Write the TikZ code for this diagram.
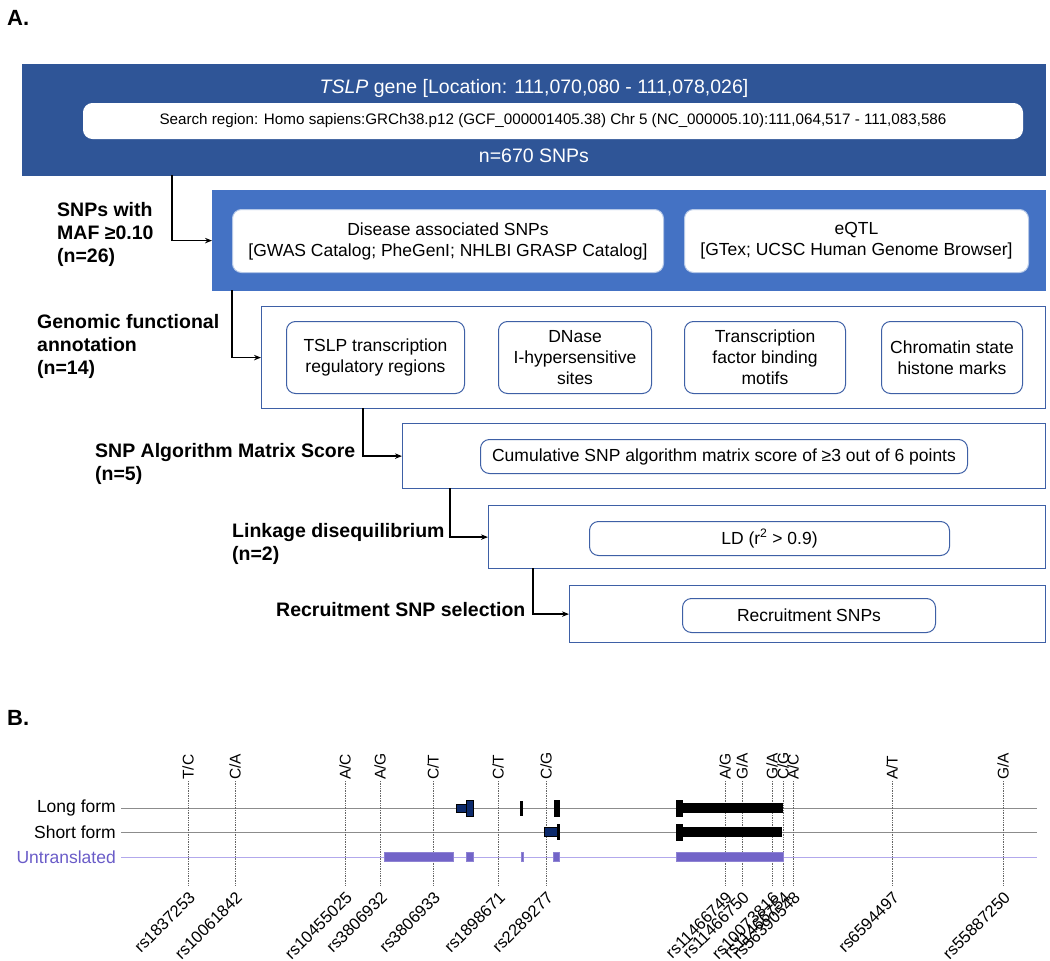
\documentclass[tikz,border=0pt]{standalone}
\usepackage{fontspec}
\setmainfont{Liberation Sans}
\usetikzlibrary{arrows.meta}
\usetikzlibrary{positioning}
\definecolor{gene-navy}{RGB}{47, 85, 151}
\definecolor{filter-blue}{RGB}{68, 114, 196}
\definecolor{frame-blue}{RGB}{62, 96, 166}
\definecolor{exon-navy}{RGB}{12, 42, 108}
\definecolor{utr-purple}{RGB}{114, 100, 200}
\definecolor{utr-line}{RGB}{178, 168, 236}
\definecolor{utr-text}{RGB}{106, 92, 200}

\begin{document}
\begin{tikzpicture}[x=1pt, y=-1pt,
    stage/.style={draw=frame-blue, line width=1.2pt, fill=white, anchor=north west, inner sep=0pt},
    tag/.style={draw=frame-blue, line width=1pt, fill=white, rounded corners=9pt, anchor=north west, inner sep=0pt},
    tagtext/.style={align=center, font=\fontsize{17.5}{21}\selectfont},
    filterlab/.style={anchor=west, align=left, inner sep=0pt, font=\fontsize{19.5}{23}\selectfont\bfseries},
    panel/.style={anchor=west, inner sep=0pt, font=\fontsize{22}{26}\selectfont\bfseries},
    flow/.style={line width=1.4pt, -{Stealth[length=7pt, width=5.5pt]}},
    track/.style={line width=1pt, draw=black!45},
    tracklab/.style={anchor=east, inner sep=0pt, font=\fontsize{17.5}{21}\selectfont},
    snp/.style={densely dotted, line width=0.7pt, draw=black!60},
    allele/.style={rotate=90, anchor=west, inner sep=1pt, font=\fontsize{15.5}{18}\selectfont},
    rsid/.style={rotate=45, anchor=north east, inner sep=3.5pt, font=\fontsize{16.5}{19}\selectfont}]
\useasboundingbox (0,0) rectangle (1050,961);

\node[panel] (parta) at (7,18) {A.};

\node[stage, fill=gene-navy, draw=gene-navy, minimum width=1023pt, minimum height=111pt] (gene) at (22,64) {};
\node[tagtext, text=white, font=\fontsize{19.5}{23}\selectfont] (genetitle) at (534,88) {\textit{TSLP} gene [Location: 111,070,080 - 111,078,026]};
\node[tag, draw=white, minimum width=939pt, minimum height=35pt] (region) at (83,103) {};
\node[font=\fontsize{15.2}{18}\selectfont] (regiontext) at (region.center) {Search region: Homo sapiens:GRCh38.p12 (GCF\_000001405.38) Chr 5 (NC\_000005.10):111,064,517 - 111,083,586};
\node[tagtext, text=white, font=\fontsize{19.5}{23}\selectfont] (snpcount) at (534,156) {n=670 SNPs};

\node[stage, fill=filter-blue, draw=filter-blue, minimum width=833pt, minimum height=100pt] (maf) at (212,190) {};
\node[tag, draw=filter-blue!40!white, minimum width=431pt, minimum height=63pt] (gwas) at (232,209) {};
\node[tagtext] (gwastext) at (gwas.center) {Disease associated SNPs\\{[}GWAS Catalog; PheGenI; NHLBI GRASP Catalog]};
\node[tag, draw=filter-blue!40!white, minimum width=344pt, minimum height=63pt] (eqtl) at (684,209) {};
\node[tagtext] (eqtltext) at (eqtl.center) {eQTL\\{[}GTex; UCSC Human Genome Browser]};

\node[stage, minimum width=784pt, minimum height=102pt] (annot) at (261,306) {};
\node[tag, minimum width=178pt, minimum height=72pt] (tslp) at (286,321) {};
\node[tagtext] (tslptext) at (tslp.center) {TSLP transcription\\regulatory regions};
\node[tag, minimum width=153pt, minimum height=72pt] (dnase) at (498,321) {};
\node[tagtext] (dnasetext) at (dnase.center) {DNase\\I-hypersensitive\\sites};
\node[tag, minimum width=161pt, minimum height=72pt] (tfbs) at (684,321) {};
\node[tagtext] (tfbstext) at (tfbs.center) {Transcription\\factor binding\\motifs};
\node[tag, minimum width=141pt, minimum height=72pt] (chrom) at (881,321) {};
\node[tagtext] (chromtext) at (chrom.center) {Chromatin state\\histone marks};

\node[stage, minimum width=643pt, minimum height=65pt] (score) at (402,423) {};
\node[tag, minimum width=487pt, minimum height=34pt] (scorebox) at (480,439) {};
\node[tagtext] (scoretext) at (scorebox.center) {Cumulative SNP algorithm matrix score of ≥3 out of 6 points};

\node[stage, minimum width=557pt, minimum height=63pt] (ld) at (488,505) {};
\node[tag, minimum width=360pt, minimum height=34pt] (ldbox) at (589,521) {};
\node[tagtext] (ldtext) at (ldbox.center) {LD (r\textsuperscript{2} > 0.9)};

\node[stage, minimum width=476pt, minimum height=57pt] (recruit) at (569,585) {};
\node[tag, minimum width=253pt, minimum height=34pt] (recruitbox) at (682,598) {};
\node[tagtext] (recruittext) at (recruitbox.center) {Recruitment SNPs};

\node[filterlab] (maflab) at (57,234) {SNPs with\\MAF ≥0.10\\(n=26)};
\node[filterlab] (annotlab) at (37,346) {Genomic functional\\annotation\\(n=14)};
\node[filterlab] (scorelab) at (95,464) {SNP Algorithm Matrix Score\\(n=5)};
\node[filterlab] (ldlab) at (232,543.5) {Linkage disequilibrium\\(n=2)};
\node[filterlab] (recruitlab) at (276,609.5) {Recruitment SNP selection};

\coordinate (tap1) at (172,175);
\coordinate (tap2) at (232,290);
\coordinate (tap3) at (363,408);
\coordinate (tap4) at (450,488);
\coordinate (tap5) at (533,568);
\draw[flow] (tap1) |- (maf.west);
\draw[flow] (tap2) |- (annot.west);
\draw[flow] (tap3) |- (score.west);
\draw[flow] (tap4) |- (ld.west);
\draw[flow] (tap5) |- (recruit.west);

\node[panel] (partb) at (7,718) {B.};

\node[tracklab] (longlab) at (116,808) {Long form};
\node[tracklab] (shortlab) at (116,832) {Short form};
\node[tracklab, text=utr-text] (utrlab) at (116,857) {Untranslated};
\draw[track] (longlab.east) ++(5,0) -- (1037,808);
\draw[track] (shortlab.east) ++(5,0) -- (1037,832);
\draw[track, draw=utr-line] (utrlab.east) ++(5,0) -- (1037,857);

\draw[snp] (188,781) node[allele] (al1) {T/C} -- (188,885) node[rsid] (rs1) {rs1837253};
\draw[snp] (235,781) node[allele] (al2) {C/A} -- (235,885) node[rsid] (rs2) {rs10061842};
\draw[snp] (345,781) node[allele] (al3) {A/C} -- (345,885) node[rsid] (rs3) {rs10455025};
\draw[snp] (380,781) node[allele] (al4) {A/G} -- (380,885) node[rsid] (rs4) {rs3806932};
\draw[snp] (433,781) node[allele] (al5) {C/T} -- (433,885) node[rsid] (rs5) {rs3806933};
\draw[snp] (498,781) node[allele] (al6) {C/T} -- (498,885) node[rsid] (rs6) {rs1898671};
\draw[snp] (546,781) node[allele] (al7) {C/G} -- (546,885) node[rsid] (rs7) {rs2289277};
\draw[snp] (725,781) node[allele] (al8) {A/G} -- (725,885) node[rsid] (rs8) {rs11466749};
\draw[snp] (742,781) node[allele] (al9) {G/A} -- (742,885) node[rsid] (rs9) {rs11466750};
\draw[snp] (772,781) node[allele] (al10) {G/A} -- (772,885) node[rsid] (rs10) {rs10073816};
\draw[snp] (783,781) node[allele] (al11) {C/G} -- (783,885) node[rsid] (rs11) {rs11466754};
\draw[snp] (793,781) node[allele] (al12) {A/C} -- (793,885) node[rsid] (rs12) {rs56390548};
\draw[snp] (892,781) node[allele] (al13) {A/T} -- (892,885) node[rsid] (rs13) {rs6594497};
\draw[snp] (1003,781) node[allele] (al14) {G/A} -- (1003,885) node[rsid] (rs14) {rs55887250};

\filldraw[fill=exon-navy, draw=black, line width=0.8pt] (456,804) rectangle (466,812);
\filldraw[fill=exon-navy, draw=black, line width=0.8pt] (466,800) rectangle (473,816);
\filldraw[fill=black, draw=black] (520,801) rectangle (522,815);
\filldraw[fill=black, draw=black] (554,800) rectangle (559,816);
\filldraw[fill=black, draw=black] (676,800) rectangle (682,816);
\filldraw[fill=black, draw=black] (682,803.5) rectangle (782,812.5);

\filldraw[fill=exon-navy, draw=black, line width=0.8pt] (544,827.5) rectangle (557,836.5);
\filldraw[fill=black, draw=black] (557,824.5) rectangle (559,839.5);
\filldraw[fill=black, draw=black] (676,824) rectangle (682,840);
\filldraw[fill=black, draw=black] (682,827.5) rectangle (781,836.5);

\filldraw[fill=utr-purple, draw=utr-purple!80!white] (384,852.5) rectangle (453,861.5);
\filldraw[fill=utr-purple, draw=utr-purple!80!white] (466,852.5) rectangle (473,861.5);
\filldraw[fill=utr-purple, draw=utr-purple!80!white] (521,852.5) rectangle (523,861.5);
\filldraw[fill=utr-purple, draw=utr-purple!80!white] (553,852.5) rectangle (559,861.5);
\filldraw[fill=utr-purple, draw=utr-purple!80!white] (676,852.5) rectangle (783,861.5);
\end{tikzpicture}
\end{document}
